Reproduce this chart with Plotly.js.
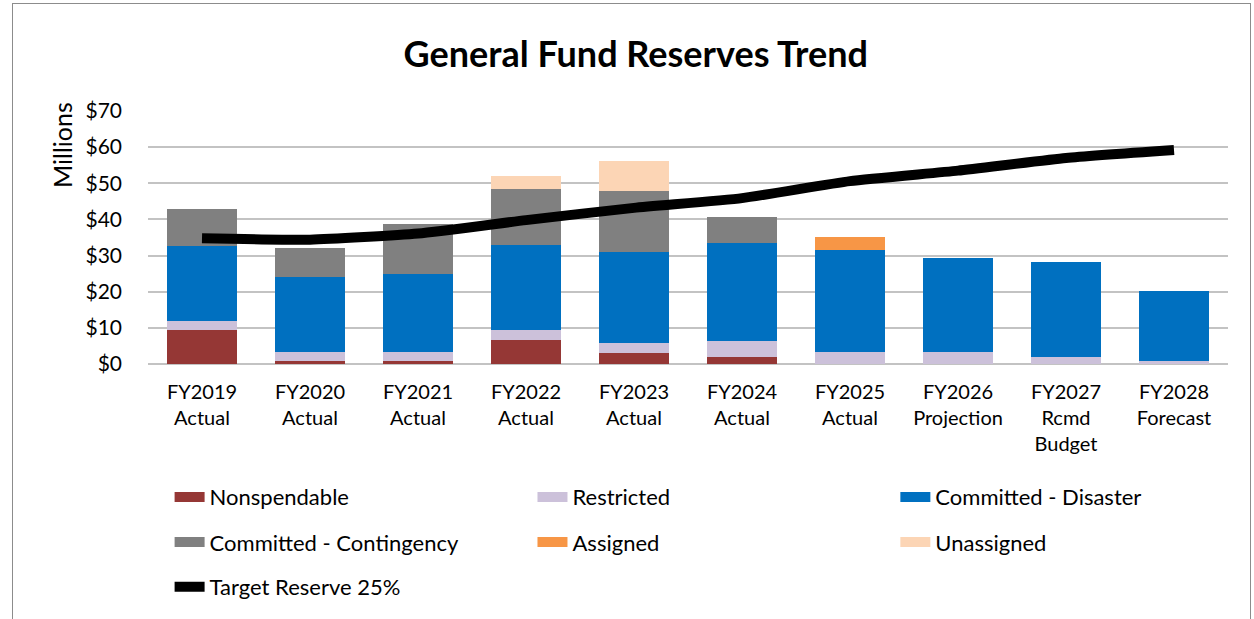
<!DOCTYPE html>
<html>
<head>
<meta charset="utf-8">
<script src="https://cdn.plot.ly/plotly-3.0.1.min.js"></script>
<style>
  body { margin: 0; background: #fff; }
  #frame { position: absolute; left: 12px; top: 3px; width: 1237px; height: 640px; border: 1px solid #8c8c8c; pointer-events: none; z-index: 5; }
  #chart { position: absolute; left: 0; top: 0; width: 1254px; height: 619px; }
</style>
</head>
<body>
<div id="chart"></div>
<div id="frame"></div>
<script>
const categories = ["FY2019<br>Actual","FY2020<br>Actual","FY2021<br>Actual","FY2022<br>Actual","FY2023<br>Actual","FY2024<br>Actual","FY2025<br>Actual","FY2026<br>Projection","FY2027<br>Rcmd<br>Budget","FY2028<br>Forecast"];
const nonspendable = [9.3, 0.9, 0.9, 6.7, 3.0, 1.9, 0, 0, 0, 0];
const restricted   = [2.5, 2.3, 2.5, 2.6, 2.8, 4.4, 3.3, 3.3, 1.9, 0.9];
const disaster     = [20.9, 20.8, 21.4, 23.6, 25.3, 27.3, 28.3, 26.1, 26.3, 19.3];
const contingency  = [10.2, 8.1, 13.9, 15.5, 16.7, 7.1, 0, 0, 0, 0];
const assigned     = [0, 0, 0, 0, 0, 0, 3.5, 0, 0, 0];
const unassigned   = [0, 0, 0, 3.5, 8.3, 0, 0, 0, 0, 0];
const target       = [34.8, 34.4, 36.1, 39.8, 43.2, 45.9, 50.6, 53.5, 57.0, 59.2];

const seriesNames  = ["Nonspendable", "Restricted", "Committed - Disaster", "Committed - Contingency", "Assigned", "Unassigned"];
const seriesColors = ["#953735", "#ccc1da", "#0070c0", "#808080", "#f79646", "#fcd5b5"];
const seriesValues = [nonspendable, restricted, disaster, contingency, assigned, unassigned];
const legendIds    = ["legend", "legend2", "legend3", "legend4", "legend5", "legend6"];

const FONT = "Source Sans Pro, Lato, Liberation Sans, sans-serif";

const traces = [];
seriesNames.forEach((name, i) => {
  traces.push({ type: "bar", name: name, x: categories, y: seriesValues[i], legendgroup: name,
    showlegend: false, marker: { color: seriesColors[i], line: { width: 0 } }, hoverinfo: "y+name" });
});
// legend-only entries (wide swatches like the reference)
seriesNames.forEach((name, i) => {
  traces.push({ type: "scatter", mode: "lines", name: name, x: [categories[0]], y: [null], legendgroup: name,
    legend: legendIds[i], showlegend: true, line: { color: seriesColors[i], width: 15 }, hoverinfo: "skip" });
});
traces.push({ type: "scatter", mode: "lines", name: "Target Reserve 25%", x: categories, y: target,
  legend: "legend7", line: { color: "#000000", width: 10, shape: "spline", smoothing: 0.5 } });

const legendBase = { orientation: "h", xanchor: "left", yanchor: "middle", traceorder: "normal",
  bgcolor: "rgba(0,0,0,0)", font: { family: FONT, size: 22, color: "#000" } };

const colX = [0.020, 0.356, 0.692];
const rowY = [-0.526, -0.704, -0.881];

const layout = {
  width: 1254, height: 619,
  margin: { l: 148, r: 26, t: 111, b: 255 },
  paper_bgcolor: "#ffffff", plot_bgcolor: "#ffffff",
  font: { family: FONT, color: "#000" },
  title: { text: "<b>General Fund Reserves Trend</b>", x: 0.507, xanchor: "center", y: 0.912, yanchor: "middle",
           font: { family: FONT, size: 36, color: "#000" } },
  barmode: "stack", bargap: 0.35,
  xaxis: { type: "category", tickfont: { family: FONT, size: 20, color: "#000" }, showgrid: false,
           showline: false, ticks: "", ticklabelstandoff: 14 },
  yaxis: { range: [0, 70], dtick: 10, tickprefix: "$", tickfont: { family: FONT, size: 21, color: "#000" },
           gridcolor: "#c3c3c3", gridwidth: 2, zeroline: true, zerolinecolor: "#c3c3c3", zerolinewidth: 2,
           showline: false, ticks: "", ticklabelstandoff: 25 },
  annotations: [{ text: "Millions", xref: "paper", yref: "paper", x: (62 - 148) / 1080, y: (364 - 145) / 253,
    xanchor: "center", yanchor: "middle", textangle: -90, showarrow: false,
    font: { family: FONT, size: 25, color: "#000" } }],
  legend:  Object.assign({}, legendBase, { x: colX[0], y: rowY[0] }),
  legend2: Object.assign({}, legendBase, { x: colX[1], y: rowY[0] }),
  legend3: Object.assign({}, legendBase, { x: colX[2], y: rowY[0] }),
  legend4: Object.assign({}, legendBase, { x: colX[0], y: rowY[1] }),
  legend5: Object.assign({}, legendBase, { x: colX[1], y: rowY[1] }),
  legend6: Object.assign({}, legendBase, { x: colX[2], y: rowY[1] }),
  legend7: Object.assign({}, legendBase, { x: colX[0], y: rowY[2] }),
  showlegend: true
};

Plotly.newPlot("chart", traces, layout, { displayModeBar: false, staticPlot: true });
</script>
</body>
</html>
